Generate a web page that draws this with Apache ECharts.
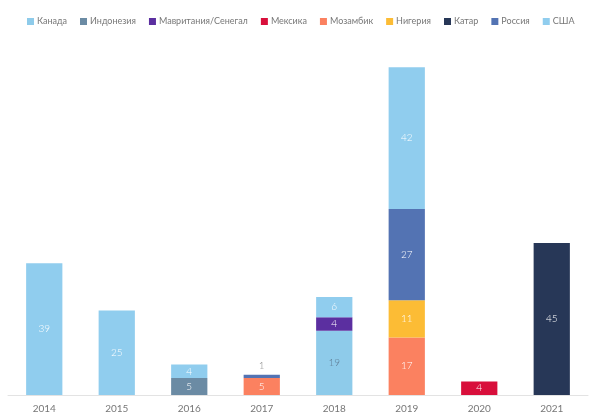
<!DOCTYPE html>
<html>
<head>
<meta charset="utf-8">
<script src="https://cdn.jsdelivr.net/npm/echarts@6/dist/echarts.min.js"></script>
<style>
  html, body { margin: 0; padding: 0; background: #fff; }
  #chart { width: 600px; height: 418px; }
</style>
</head>
<body>
<div id="chart"></div>
<script>
const years = ['2014', '2015', '2016', '2017', '2018', '2019', '2020', '2021'];

const canada     = [null, null, null, null, 19, null, null, null];
const indonesia  = [null, null, 5, null, null, null, null, null];
const mauritania = [null, null, null, null, 4, null, null, null];
const mexico     = [null, null, null, null, null, null, 4, null];
const mozambique = [null, null, null, 5, null, 17, null, null];
const nigeria    = [null, null, null, null, null, 11, null, null];
const qatar      = [null, null, null, null, null, null, null, 45];
const russia     = [null, null, null, 1, null, 27, null, null];
const usa        = [39, 25, 4, null, 6, 42, null, null];

const seriesDefs = [
    { name: 'Канада', data: canada, color: '#8ecbea', labelColor: '#5d7b92' },
    { name: 'Индонезия', data: indonesia, color: '#6b8ba4' },
    { name: 'Мавритания/Сенегал', data: mauritania, color: '#5b2fa0' },
    { name: 'Мексика', data: mexico, color: '#d80f3b' },
    { name: 'Мозамбик', data: mozambique, color: '#fb8160' },
    { name: 'Нигерия', data: nigeria, color: '#fcbc35' },
    { name: 'Катар', data: qatar, color: '#273757' },
    { name: 'Россия', data: russia, color: '#5373b3' },
    { name: 'США', data: usa, color: '#90cdee' },
];

const font = 'Lato, "Open Sans", sans-serif';

const chart = echarts.init(document.getElementById('chart'));

const series = seriesDefs.map((s) => ({
    name: s.name,
    type: 'bar',
    stack: 'total',
    barWidth: '50%',
    itemStyle: { color: s.color },
    label: {
        show: true,
        position: 'inside',
        color: s.labelColor || '#ffffff',
        fontSize: 10,
        fontFamily: font,
        fontWeight: 300,
        formatter: (p) => (p.value == null ? '' : p.value),
    },
    data: s.data.map((v) => {
        if (v != null && v < 2) {
            // too thin for an inside label, put it above
            return { value: v, label: { position: 'top', color: '#888', distance: 4 } };
        }
        return v;
    }),
}));

chart.setOption({
    animation: false,
    color: seriesDefs.map((s) => s.color),
    legend: {
        left: 22,
        top: 12,
        width: 570,
        itemWidth: 7,
        itemHeight: 7,
        itemGap: 13,
        icon: 'rect',
        textStyle: { color: '#777', fontSize: 9, fontFamily: font, padding: [0, 0, 0, -2] },
        data: seriesDefs.map((s) => s.name),
    },
    grid: {
        left: 8,
        right: 12,
        top: 57,
        bottom: 23,
        containLabel: false,
    },
    xAxis: {
        type: 'category',
        data: years,
        axisLine: { lineStyle: { color: '#e3e3e3', width: 1 } },
        axisTick: { show: false },
        axisLabel: { color: '#777', fontSize: 10, fontFamily: font, margin: 9 },
    },
    yAxis: {
        type: 'value',
        min: 0,
        max: 100,
        show: false,
        splitLine: { show: false },
    },
    series,
});
</script>
</body>
</html>
